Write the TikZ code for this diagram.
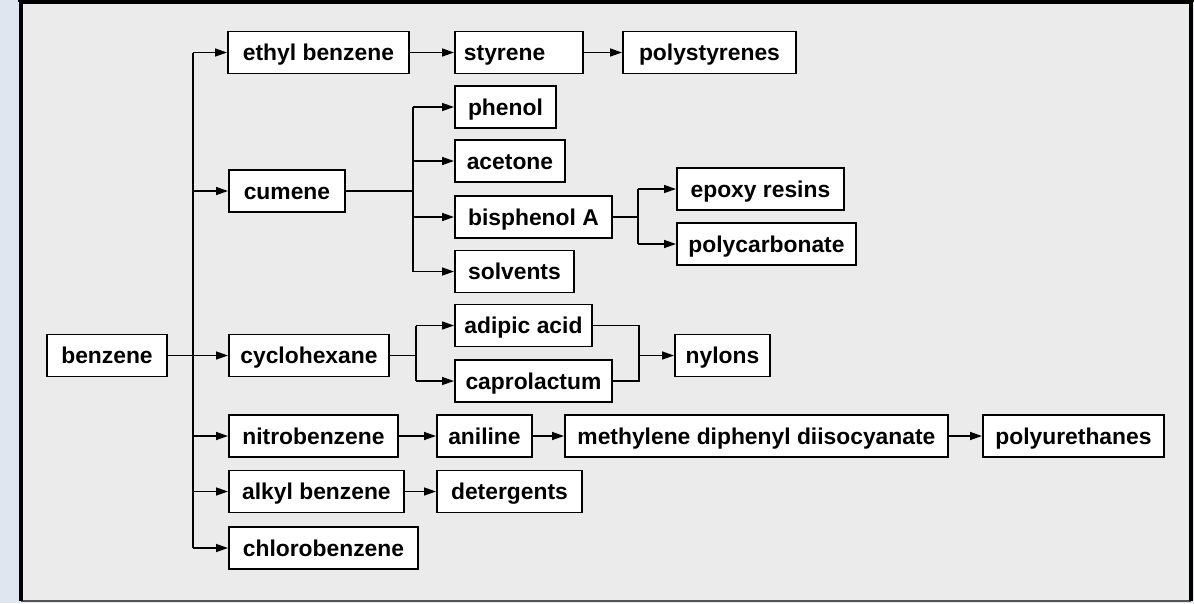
\documentclass[tikz,border=0pt]{standalone}
\usepackage{fontspec}
\setmainfont{Liberation Sans}
\usepackage{tikz}
\usetikzlibrary{arrows.meta, positioning, calc}
\definecolor{pageblue}{HTML}{DFE6EF}
\definecolor{panelgray}{HTML}{EBEBEB}
\definecolor{rimgray}{HTML}{555555}

\begin{document}
\begin{tikzpicture}[
    x=0.02cm, y=-0.02cm,
    box/.style={
        draw=black, fill=white, line width=1.1pt, anchor=west,
        minimum height=0.84cm, inner sep=0pt,
        text height=0.33cm, text depth=0pt,
        font=\fontsize{13}{15}\selectfont\bfseries
    },
    conn/.style={line width=0.8pt, color=black},
    arr/.style={conn, -{Triangle[length=0.24cm, width=0.16cm]}}
]
\useasboundingbox (0,0) rectangle (1194,603);

% --- page and frame ---
\fill[pageblue] (0,0) rectangle (1194,603);
\fill[panelgray] (21,2) rectangle (1191,601);
\draw[rimgray, line width=1pt] (21,601) -- (1191,601);
\draw[black, line width=2.2pt] (21,601) -- (21,2.5) -- (1191,2.5) -- (1191,601);
\draw[black, line width=1.5pt] (21,2.5) -- (1191,2.5);
\draw[black, line width=2.8pt] (18,0) -- (1194,0);

% --- boxes ---
\node[box, anchor=center, minimum width=2.40cm] (benz) at (107, 355.5) {benzene};

\node[box, minimum width=3.62cm] (eb)  at (227, 52.5) {ethyl benzene};
\node[box, minimum width=2.56cm, text width=2.2cm, align=left] (sty) at (454, 52.5) {styrene};
\node[box, minimum width=3.46cm] (pst) at (622, 52.5) {polystyrenes};

\node[box, minimum width=2.32cm] (cum) at (228, 191) {cumene};
\node[box, minimum width=2.02cm] (phe) at (454, 107) {phenol};
\node[box, minimum width=2.20cm] (ace) at (454, 161) {acetone};
\node[box, minimum width=3.14cm] (bpa) at (454, 217) {bisphenol A};
\node[box, minimum width=2.38cm] (sol) at (454, 271.5) {solvents};
\node[box, minimum width=3.34cm] (epo) at (676, 189) {epoxy resins};
\node[box, minimum width=3.58cm] (pcb) at (676, 244) {polycarbonate};

\node[box, minimum width=3.20cm] (cyc) at (228, 355.5) {cyclohexane};
\node[box, minimum width=2.74cm] (adi) at (454, 325.5) {adipic acid};
\node[box, minimum width=3.14cm] (cap) at (454, 381) {caprolactum};
\node[box, minimum width=1.90cm] (nyl) at (674, 355.5) {nylons};

\node[box, minimum width=3.38cm] (nit) at (228, 436) {nitrobenzene};
\node[box, minimum width=1.90cm] (ani) at (436, 436) {aniline};
\node[box, minimum width=7.66cm] (mdi) at (564, 436) {methylene diphenyl diisocyanate};
\node[box, minimum width=3.62cm] (pur) at (982, 436) {polyurethanes};

\node[box, minimum width=3.50cm] (alk) at (228, 491.5) {alkyl benzene};
\node[box, minimum width=2.90cm] (det) at (436, 491.5) {detergents};

\node[box, minimum width=3.78cm] (chl) at (228, 548) {chlorobenzene};

% --- fork points ---
\coordinate (trunk)   at (193, 355.5);
\coordinate (cumfork) at (413, 191);
\coordinate (bpafork) at (638, 217);
\coordinate (cycfork) at (416, 355.5);
\coordinate (nylfork) at (639, 355.5);

% --- benzene trunk ---
\draw[conn] (trunk |- eb) -- (trunk |- chl);
\draw[arr] (benz) -- (cyc);
\foreach \n in {eb, cum, nit, alk, chl} {
    \draw[arr] (trunk |- \n) -- (\n);
}

% --- straight chains ---
\foreach \a/\b in {eb/sty, sty/pst, nit/ani, ani/mdi, mdi/pur, alk/det} {
    \draw[arr] (\a) -- (\b);
}

% --- cumene fork ---
\draw[conn] (cum) -- (cumfork);
\draw[conn] (cumfork |- phe) -- (cumfork |- sol);
\foreach \n in {phe, ace, bpa, sol} {
    \draw[arr] (cumfork |- \n) -- (\n);
}

% --- bisphenol A fork ---
\draw[conn] (bpa) -- (bpafork);
\draw[conn] (bpafork |- epo) -- (bpafork |- pcb);
\foreach \n in {epo, pcb} {
    \draw[arr] (bpafork |- \n) -- (\n);
}

% --- cyclohexane fork and nylons join ---
\draw[conn] (cyc) -- (cycfork);
\draw[conn] (cycfork |- adi) -- (cycfork |- cap);
\foreach \n in {adi, cap} {
    \draw[arr] (cycfork |- \n) -- (\n);
}
\draw[conn] (adi) -- (nylfork |- adi) -- (nylfork |- cap) -- (cap);
\draw[arr] (nylfork) -- (nyl);

\end{tikzpicture}
\end{document}
